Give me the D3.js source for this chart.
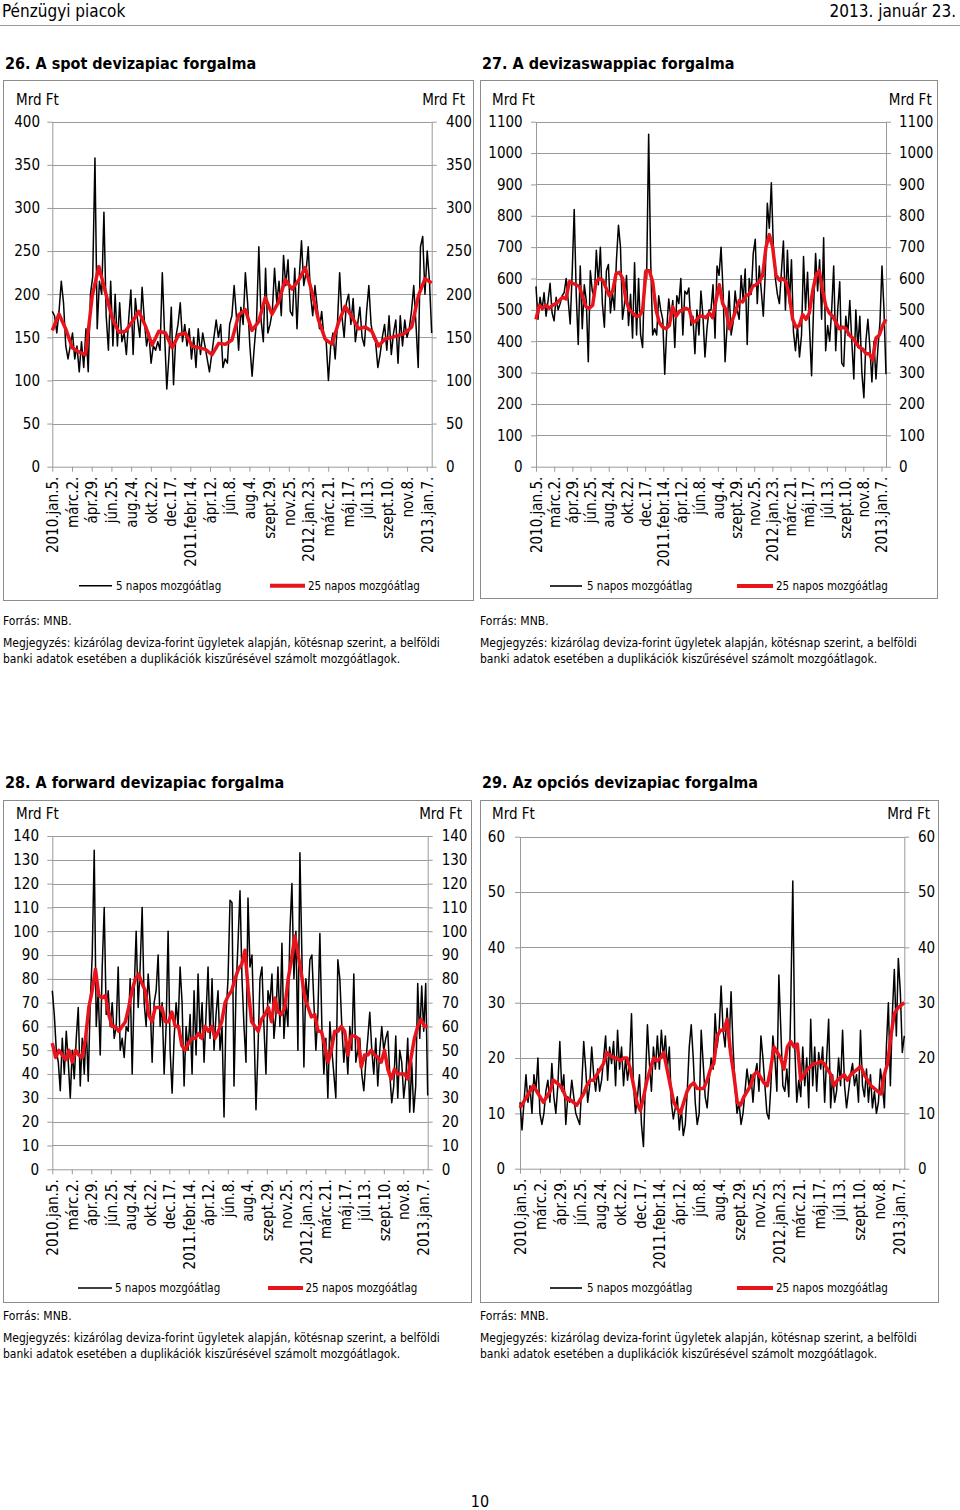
<!DOCTYPE html>
<html>
<head>
<meta charset="utf-8">
<script src="https://cdn.jsdelivr.net/npm/d3@7"></script>
<style>
  body { margin: 0; background: #fff; }
</style>
</head>
<body>
<svg id="page" width="960" height="1510"></svg>
<script>
// x axis tick labels (every 40th trading day from 2010.jan.5.)
const tickLabels = ['2010.jan.5.', 'márc.2.', 'ápr.29.', 'jún.25.', 'aug.24.', 'okt.22.', 'dec.17.',
    '2011.febr.14.', 'ápr.12.', 'jún.8.', 'aug.4.', 'szept.29.', 'nov.25.', '2012.jan.23.',
    'márc.21.', 'máj.17.', 'júl.13.', 'szept.10.', 'nov.8.', '2013.jan.7.'];
const tickEvery = 40;
const totalDays = 770;

// 26. spot (Mrd Ft), sampled evenly over the period
const spot5 = [180,175,155,180,215,190,140,125,140,155,125,140,110,145,115,160,110,200,220,358,
    160,215,200,295,175,135,215,140,200,140,190,145,155,130,170,205,130,195,170,150,
    208,170,140,155,120,140,135,145,135,225,155,90,130,185,95,150,165,190,145,165,
    140,160,125,150,115,160,130,155,140,125,110,130,150,170,150,165,115,125,120,165,
    175,210,175,135,185,165,225,190,140,105,140,170,255,170,145,230,155,165,180,230,
    190,215,175,245,210,240,180,175,230,160,220,262,210,225,255,200,175,210,185,160,
    180,150,145,100,140,155,125,165,225,175,150,190,200,165,195,145,165,185,150,140,
    180,210,165,150,145,115,130,150,165,135,175,130,155,170,120,175,140,170,150,160,
    180,210,165,115,255,267,200,250,215,155];
const spot25 = [158,177,160,138,133,130,198,232,202,172,156,157,168,180,163,141,157,155,138,153,
    155,140,138,136,130,143,142,147,176,182,158,168,196,177,191,217,206,216,231,203,
    170,148,142,167,186,174,160,162,157,140,148,150,152,155,162,198,218,213];

// 27. swap
const swap5 = [575,470,540,500,555,480,530,585,490,465,540,500,520,545,555,600,530,455,620,820,
    550,390,640,440,580,530,335,625,560,540,690,580,700,520,445,625,645,490,555,500,
    660,770,700,470,520,610,450,550,410,650,420,600,420,380,620,600,1060,660,420,440,
    420,545,500,470,295,440,535,475,530,380,545,520,600,420,560,550,570,450,480,360,
    500,420,560,480,350,440,500,500,580,410,640,610,700,560,335,450,560,420,460,560,
    500,470,610,530,630,390,600,550,680,725,520,640,560,480,620,840,760,905,700,600,
    550,520,620,720,500,690,520,660,430,370,450,350,420,670,500,620,440,290,510,680,
    560,660,470,730,370,450,400,500,640,370,500,590,330,320,480,420,530,400,280,500,
    380,480,300,220,400,470,380,270,400,280,380,460,640,500,295];
const swap25 = [470,515,505,515,505,515,520,530,540,535,590,585,580,575,540,510,505,515,590,600,
    595,570,545,560,615,620,600,530,500,490,480,480,500,625,625,590,500,460,445,440,
    450,510,480,495,500,505,500,460,465,480,480,475,490,475,530,580,520,500,440,470,
    500,530,525,545,550,575,580,590,610,700,740,700,610,595,600,590,545,470,445,450,
    485,470,490,560,610,625,560,510,490,480,460,440,445,440,420,410,395,380,375,360,
    360,340,410,420,450,470];

// 28. forward
const fwd5 = [75,65,50,45,33,55,40,58,45,30,50,38,55,68,35,55,40,60,37,70,
    90,134,60,75,48,85,110,65,75,60,70,55,60,85,50,55,47,60,58,80,
    40,75,100,68,85,110,70,60,82,70,45,70,75,90,60,70,40,60,100,50,
    32,55,70,60,85,70,35,60,50,65,40,75,48,82,55,70,45,65,85,55,
    80,50,65,75,50,60,22,65,80,113,112,35,75,95,117,80,60,45,114,85,
    90,60,25,50,80,85,60,40,75,70,82,55,65,85,60,95,55,70,60,100,
    120,80,100,50,133,90,43,80,70,88,90,70,50,65,99,60,40,55,30,62,
    50,40,30,88,80,60,45,55,40,60,50,82,45,50,55,40,33,45,55,66,
    50,40,55,35,50,60,50,55,58,40,28,35,56,30,50,45,30,38,55,24,
    45,24,35,78,55,77,58,78,31];
const fwd25 = [53,47,50,48,46,50,45,50,48,47,55,68,75,84,73,72,73,65,60,60,
    58,60,62,68,75,80,82,78,75,65,62,68,68,68,62,62,66,60,60,52,
    50,53,55,55,57,55,60,58,60,55,58,62,70,73,75,80,84,86,92,75,
    62,60,58,63,65,68,62,72,66,65,68,80,88,98,90,82,72,68,64,65,
    58,58,52,45,50,58,58,60,58,48,56,56,55,43,48,48,50,48,47,45,
    50,42,38,42,40,40,40,38,47,55,60,63,60,60];

// 29. options
const opt5 = [12,7,12,17,12,15,10,17,14,20,10,8,10,14,16,12,19,13,10,15,
    23,14,17,8,13,12,16,13,10,9,8,15,23,18,12,15,22,17,14,18,
    14,16,20,24,16,22,19,23,15,25,18,22,15,20,16,19,28,15,10,13,
    17,8,4,16,26,19,14,22,18,24,18,25,20,24,18,22,12,9,11,13,
    7,11,6,8,14,22,26,20,12,8,10,25,19,13,11,16,20,18,28,22,
    25,33,25,22,29,22,32,22,15,10,12,8,10,14,18,15,17,12,17,19,
    14,24,20,15,10,9,15,24,20,14,35,25,15,14,18,13,30,52,22,12,
    16,13,22,15,20,11,27,15,22,14,21,18,22,12,20,27,11,17,12,14,
    20,15,25,15,11,14,17,19,15,17,12,25,15,13,18,12,17,11,14,10,
    12,18,15,11,22,30,15,28,36,24,38,32,21,24];
const opt25 = [11,12,13,14,15,14,13,12,13,14,16,15.5,15,14,12.5,12.5,12,11.5,12.5,13.5,
    15,16,16,17,18,19,21,20.5,20,20,19.5,20,20,18,15,12,10.5,13,16,18,
    20,19.5,20,21,18,15,12,11,10,12,14,15,15.5,14.5,14.5,14.5,16,18,19,24,
    25,25,27,21,17,12,11.5,13,14,15,17,17.5,16.5,15.5,15,18,22,21,20,18,
    22,23,22,22.5,16,17,18,18.5,19,19,19.5,19,18,17,15,16,16.5,17,16,17,
    17.5,18,18.5,17,16,15,14.5,14,13.5,17,19,24,28,29,29.5,30];

const legendNames = ['5 napos mozgóátlag', '25 napos mozgóátlag'];
const noteLines = ['Forrás: MNB.',
    'Megjegyzés: kizárólag deviza-forint ügyletek alapján, kötésnap szerint, a belföldi',
    'banki adatok esetében a duplikációk kiszűrésével számolt mozgóátlagok.'];

const FONT = '"DejaVu Sans Condensed", "DejaVu Sans", sans-serif';
const GRID = '#9a9a9a';
const RED = '#e8141c';

const svg = d3.select('#page');

// page header
svg.append('text').attr('x', 2).attr('y', 17).attr('font-family', FONT)
    .attr('font-size', 17).text('Pénzügyi piacok');
svg.append('text').attr('x', 956).attr('y', 17).attr('font-family', FONT)
    .attr('font-size', 17).attr('text-anchor', 'end').text('2013. január 23.');
svg.append('line').attr('x1', 0).attr('x2', 960).attr('y1', 25.5).attr('y2', 25.5)
    .attr('stroke', '#999');
svg.append('text').attr('x', 480).attr('y', 1507).attr('font-family', FONT)
    .attr('font-size', 16).attr('text-anchor', 'middle').text('10');

function drawChart(c) {
    const g = svg.append('g');

    g.append('text').attr('x', c.titleX).attr('y', c.titleY).attr('font-family', FONT)
        .attr('font-size', 16).attr('font-weight', 'bold').text(c.title);

    g.append('rect')
        .attr('x', c.box[0] + 0.5).attr('y', c.box[1] + 0.5)
        .attr('width', c.box[2] - c.box[0]).attr('height', c.box[3] - c.box[1])
        .attr('fill', 'none').attr('stroke', '#8c8c8c');

    const x = d3.scaleLinear().domain([0, totalDays]).range([c.left, c.right]);
    const y = d3.scaleLinear().domain([0, c.yMax]).range([c.bottom, c.top]);
    const yTicks = d3.range(0, c.yMax + c.yStep / 2, c.yStep);

    // gridlines
    g.selectAll('line.grid')
        .data(yTicks.filter(v => v > 0))
        .enter()
        .append('line')
        .attr('x1', c.left).attr('x2', c.right)
        .attr('y1', d => Math.round(y(d)) + 0.5).attr('y2', d => Math.round(y(d)) + 0.5)
        .attr('stroke', GRID);

    const fmt = d3.format('d');
    const yl = g.append('g').attr('transform', `translate(${c.left},0)`)
        .call(d3.axisLeft(y).tickValues(yTicks).tickFormat(fmt).tickSize(5).tickSizeOuter(0)
            .tickPadding(c.left - c.leftLabelX - 5));
    const yr = g.append('g').attr('transform', `translate(${c.right},0)`)
        .call(d3.axisRight(y).tickValues(yTicks).tickFormat(fmt).tickSize(5).tickSizeOuter(0)
            .tickPadding(c.rightLabelX - c.right - 5));
    [yl, yr].forEach(a => {
        a.selectAll('path, line').attr('stroke', GRID);
        a.selectAll('text').attr('font-family', FONT).attr('font-size', 15).attr('fill', '#000');
    });

    const xa = g.append('g').attr('transform', `translate(0,${c.bottom})`)
        .call(d3.axisBottom(x).tickValues(d3.range(0, tickLabels.length).map(i => i * tickEvery))
            .tickFormat((d, i) => tickLabels[i]).tickSize(5).tickSizeOuter(0));
    xa.selectAll('path, line').attr('stroke', GRID);
    xa.selectAll('text')
        .attr('font-family', FONT).attr('font-size', 15).attr('fill', '#000')
        .attr('x', 0).attr('y', 0).attr('dy', '0.35em')
        .attr('text-anchor', 'end')
        .attr('transform', 'translate(0,10) rotate(-90)');

    // series
    const line = arr => d3.line()
        .x((d, i) => x(i * totalDays / (arr.length - 1)))
        .y(d => y(d))(arr);

    g.append('path').attr('d', line(c.s5)).attr('fill', 'none')
        .attr('stroke', '#000').attr('stroke-width', 1.5).attr('stroke-linejoin', 'round');
    g.append('path').attr('d', line(c.s25)).attr('fill', 'none')
        .attr('stroke', RED).attr('stroke-width', 3.5).attr('stroke-linejoin', 'round');

    // units
    g.append('text').attr('x', c.unitLeftX).attr('y', c.unitY).attr('font-family', FONT)
        .attr('font-size', 15).text('Mrd Ft');
    g.append('text').attr('x', c.unitRightX).attr('y', c.unitY).attr('font-family', FONT)
        .attr('font-size', 15).attr('text-anchor', 'end').text('Mrd Ft');

    // legend
    const lg = [{ k: c.leg[0], col: '#000', w: 1.6 }, { k: c.leg[1], col: RED, w: 4 }];
    lg.forEach((l, i) => {
        g.append('line').attr('x1', l.k[0]).attr('x2', l.k[1])
            .attr('y1', c.legendY).attr('y2', c.legendY)
            .attr('stroke', l.col).attr('stroke-width', l.w);
        g.append('text').attr('x', l.k[2]).attr('y', c.legendY).attr('dy', '0.35em')
            .attr('font-family', FONT).attr('font-size', 11.5).text(legendNames[i]);
    });

    // notes
    noteLines.forEach((t, i) => {
        g.append('text').attr('x', c.box[0]).attr('y', c.noteY[i]).attr('font-family', FONT)
            .attr('font-size', 12).text(t);
    });
}

drawChart({
    title: '26. A spot devizapiac forgalma', titleX: 5, titleY: 69,
    box: [3, 80, 473, 600], left: 52.3, right: 431.7, top: 121.7, bottom: 466.7,
    yMax: 400, yStep: 50, leftLabelX: 40, rightLabelX: 446,
    unitY: 105, unitLeftX: 16, unitRightX: 465,
    legendY: 585.7, leg: [[79, 112, 116], [270, 305, 308]],
    noteY: [625, 647, 663], s5: spot5, s25: spot25
});
drawChart({
    title: '27. A devizaswappiac forgalma', titleX: 482, titleY: 69,
    box: [480, 80, 937, 598], left: 536, right: 886, top: 121.7, bottom: 466.7,
    yMax: 1100, yStep: 100, leftLabelX: 522.7, rightLabelX: 899,
    unitY: 104.5, unitLeftX: 492, unitRightX: 931.7,
    legendY: 586, leg: [[550, 582, 587], [737, 773, 776]],
    noteY: [625, 647, 663], s5: swap5, s25: swap25
});
drawChart({
    title: '28. A forward devizapiac forgalma', titleX: 5, titleY: 788,
    box: [3, 800, 471, 1302], left: 52.3, right: 427.7, top: 836, bottom: 1169.3,
    yMax: 140, yStep: 10, leftLabelX: 39, rightLabelX: 441.7,
    unitY: 818.5, unitLeftX: 16, unitRightX: 462,
    legendY: 1288, leg: [[78, 112, 115], [268, 303, 305.5]],
    noteY: [1320, 1342, 1358], s5: fwd5, s25: fwd25
});
drawChart({
    title: '29. Az opciós devizapiac forgalma', titleX: 482, titleY: 788,
    box: [480, 800, 938, 1302], left: 520, right: 904.3, top: 836.7, bottom: 1168.7,
    yMax: 60, yStep: 10, leftLabelX: 505, rightLabelX: 918,
    unitY: 818.5, unitLeftX: 492, unitRightX: 930,
    legendY: 1288, leg: [[550, 582, 587], [737, 773, 776]],
    noteY: [1320, 1342, 1358], s5: opt5, s25: opt25
});
</script>
</body>
</html>
